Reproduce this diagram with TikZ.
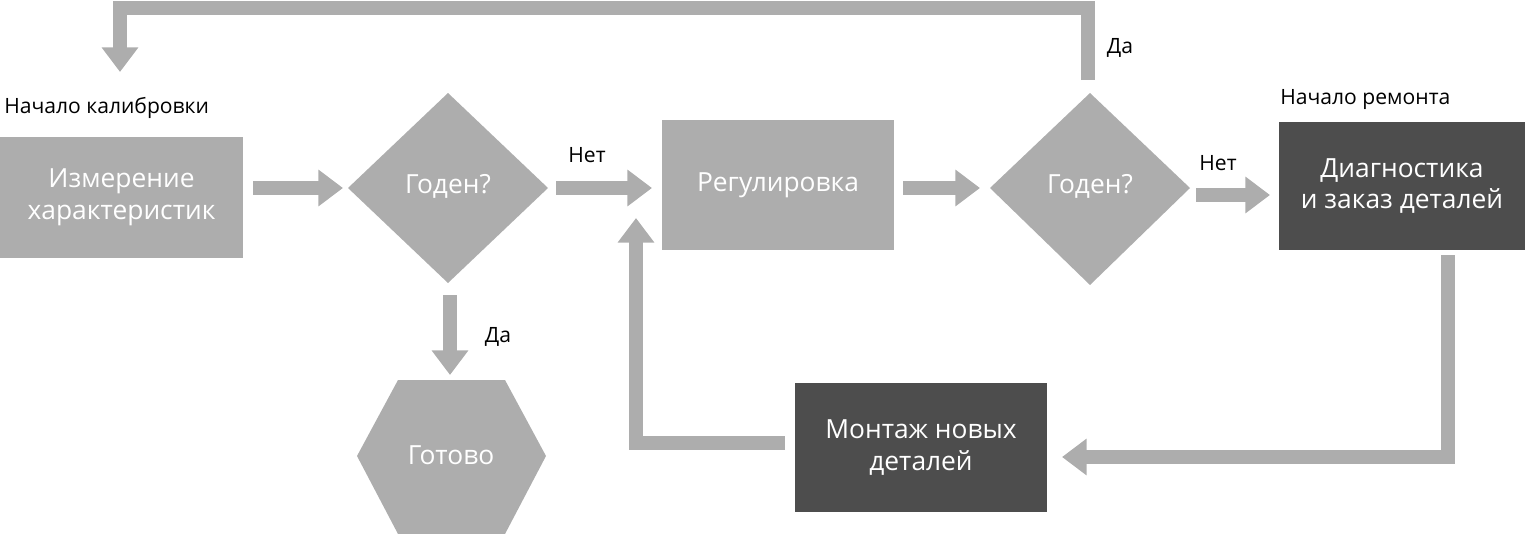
\documentclass[tikz,border=0pt]{standalone}
\usepackage{fontspec}
\setmainfont{Open Sans}
\usetikzlibrary{arrows.meta,shapes.geometric}
\definecolor{lg}{HTML}{ADADAD}
\definecolor{dg}{HTML}{4D4D4D}
\begin{document}
\begin{tikzpicture}[x=0.02cm,y=-0.02cm,
  box/.style={fill=lg,text=white,font=\fontsize{15}{18}\selectfont,align=center,inner sep=0pt},
  dbox/.style={box,fill=dg},
  lab/.style={font=\fontsize{12}{14}\selectfont,text=black,inner sep=0pt},
  arr/.style={draw=lg,line width=8pt,-{Triangle[width=20pt,length=14pt]}}]
\useasboundingbox (0,0) rectangle (1525,534);
% boxes
\node[box,minimum width=243*0.02cm,minimum height=121*0.02cm] (m) at (121.5,197.5) {Измерение\\характеристик};
\node[box,minimum width=232*0.02cm,minimum height=130*0.02cm] (r) at (778,185) {Регулировка};
\node[dbox,minimum width=246*0.02cm,minimum height=128*0.02cm] (d) at (1402,186) {Диагностика\\и заказ деталей};
\node[dbox,minimum width=252*0.02cm,minimum height=129*0.02cm] (mo) at (921,447.5) {Монтаж новых\\деталей};
\path[fill=lg] (348,188)--(448,93)--(548,188)--(448,283)--cycle;
\node[box] (g1) at (448,186) {Годен?};
\path[fill=lg] (990,188)--(1090,93)--(1190,188)--(1090,285)--cycle;
\node[box] (g2) at (1090,186) {Годен?};
\path[fill=lg] (357,456)--(398,380)--(505,380)--(546,456)--(505,534)--(398,534)--cycle;
\node[box] (gt) at (451,455) {Готово};
% labels
\node[lab,anchor=west] (l1) at (4,108) {Начало калибровки};
\node[lab,anchor=west] (l2) at (1280,100) {Начало ремонта};
\node[lab] (n1) at (587,155) {Нет};
\node[lab] (n2) at (1218,163) {Нет};
\node[lab] (y1) at (498,337) {Да};
\node[lab] (y2) at (1120,48) {Да};
% coordinates
\coordinate (a1) at (253,188); \coordinate (b1) at (343,188);
\coordinate (a2) at (556,188); \coordinate (b2) at (652,188);
\coordinate (a3) at (903,188); \coordinate (b3) at (980,188);
\coordinate (a4) at (1196,195); \coordinate (b4) at (1270,195);
\coordinate (a5) at (1448,255); \coordinate (b5) at (1062,457);
\coordinate (a6) at (785,443); \coordinate (b6) at (636,218);
\coordinate (a7) at (1088,80); \coordinate (b7) at (120,72);
\coordinate (a8) at (450,295); \coordinate (b8) at (450,375);
\draw[arr] (a1)--(b1);
\draw[arr] (a2)--(b2);
\draw[arr] (a3)--(b3);
\draw[arr] (a4)--(b4);
\draw[arr] (a5)|-(b5);
\draw[arr] (a6)-|(b6);
\draw[arr] (a7)--(1088,8)-|(b7);
\draw[arr] (a8)--(b8);
\end{tikzpicture}
\end{document}
